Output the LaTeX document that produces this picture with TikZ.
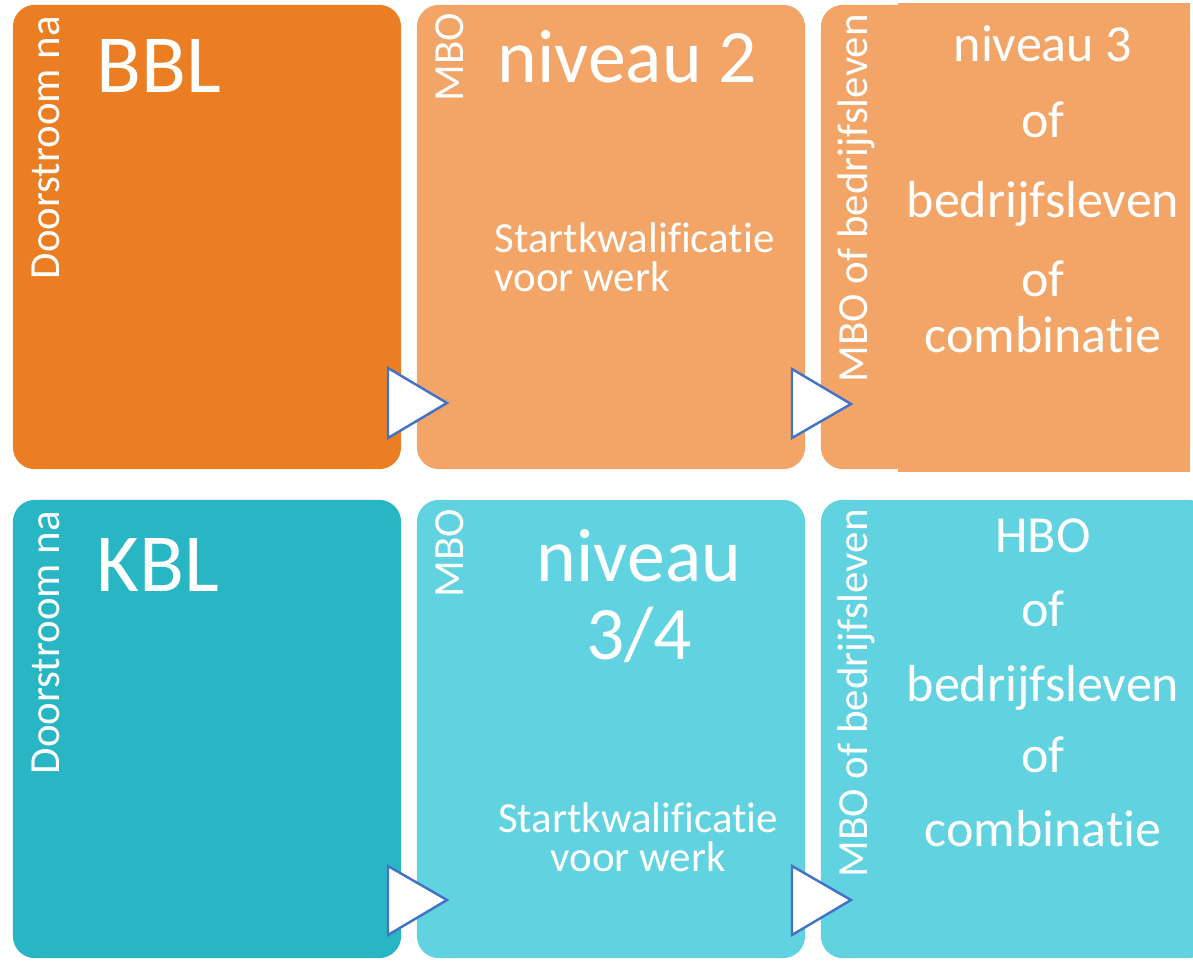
\documentclass[tikz,border=0pt]{standalone}
\usepackage{fontspec}
\setmainfont{Carlito}[Ligatures={NoCommon,NoRare}]

\definecolor{bblDonker}{HTML}{EB7E23}
\definecolor{bblLicht}{HTML}{F2A566}
\definecolor{kblDonker}{HTML}{28B6C5}
\definecolor{kblLicht}{HTML}{61D3E0}
\definecolor{pijlRand}{HTML}{4472C4}

\begin{document}
\begin{tikzpicture}[x=0.01cm, y=-0.01cm,
		tegel/.style={rounded corners=0.22cm, inner sep=0pt, outer sep=0pt, draw=none},
		pijl/.style={fill=white, draw=pijlRand, line width=0.7pt, line join=miter},
		tekst/.style={text=white, inner sep=0pt},
		groot/.style={tekst, font=\fontsize{23.5}{28}\selectfont},
		niveau/.style={tekst, font=\fontsize{21.5}{26}\selectfont},
		middel/.style={tekst, font=\fontsize{14.8}{18}\selectfont},
		klein/.style={tekst, font=\fontsize{12.2}{15}\selectfont},
		zij/.style={klein, rotate=90, anchor=base west}]
		\useasboundingbox (0,0) rectangle (1193,961);
		\clip (0,0) rectangle (1193,961);
		% bovenste rij: BBL
		\node[tegel, fill=bblDonker, minimum width=3.88cm, minimum height=4.64cm] (bbl) at (207,237) {};
		\node[tegel, fill=bblLicht, minimum width=3.88cm, minimum height=4.64cm] (mbo2) at (611,237) {};
		\node[tegel, fill=bblLicht, minimum width=3.69cm, minimum height=4.64cm] (doel2) at (1005.5,237) {};
		\fill[bblLicht] (898,3) rectangle (1190,472);
		% onderste rij: KBL
		\node[tegel, fill=kblDonker, minimum width=3.88cm, minimum height=4.58cm] (kbl) at (207,729) {};
		\node[tegel, fill=kblLicht, minimum width=3.88cm, minimum height=4.58cm] (mbo34) at (611,729) {};
		\node[tegel, fill=kblLicht, minimum width=3.89cm, minimum height=4.58cm] (doel34) at (1015.5,729) {};
		% pijltjes
		\draw[pijl] (388,368) -- (388,438) -- (447,403) -- cycle;
		\draw[pijl] (792,369) -- (792,438) -- (851,404) -- cycle;
		\draw[pijl] (388,866) -- (388,935) -- (447,900) -- cycle;
		\draw[pijl] (792,866) -- (792,935) -- (851,900) -- cycle;
		% teksten BBL
		\node[zij] (doorBbl) at (60,280) {Doorstroom na};
		\node[groot, anchor=base west] (bblNaam) at (96,93) {BBL};
		\node[zij] (mboBbl) at (463,102) {MBO};
		\node[niveau, anchor=base west] (niv2) at (497,83) {niveau 2};
		\node[klein, anchor=base west] (start2) at (494,253) {Startkwalificatie};
		\node[klein, anchor=base west] (werk2) at (494,292) {voor werk};
		\node[zij] (zijBbl) at (867,383) {MBO of bedrijfsleven};
		\node[middel, anchor=base] (niv3) at (1043,62) {niveau 3};
		\node[middel, anchor=base] (of1) at (1043,138) {of};
		\node[middel, anchor=base] (bedr1) at (1043,218) {bedrijfsleven};
		\node[middel, anchor=base] (of2) at (1043,297) {of};
		\node[middel, anchor=base] (comb1) at (1043,353) {combinatie};
		% teksten KBL
		\node[zij] (doorKbl) at (60,775) {Doorstroom na};
		\node[groot, anchor=base west] (kblNaam) at (96,592) {KBL};
		\node[zij] (mboKbl) at (463,598) {MBO};
		\node[niveau, anchor=base] (niv34) at (639,582) {niveau};
		\node[niveau, anchor=base] (drie4) at (639,660) {3/4};
		\node[klein, anchor=base] (start34) at (638,833) {Startkwalificatie};
		\node[klein, anchor=base] (werk34) at (638,872) {voor werk};
		\node[zij] (zijKbl) at (867,878) {MBO of bedrijfsleven};
		\node[middel, anchor=base] (hbo) at (1043,553) {HBO};
		\node[middel, anchor=base] (of3) at (1043,627) {of};
		\node[middel, anchor=base] (bedr2) at (1043,702) {bedrijfsleven};
		\node[middel, anchor=base] (of4) at (1043,773) {of};
		\node[middel, anchor=base] (comb2) at (1043,847) {combinatie};
	\end{tikzpicture}
\end{document}
